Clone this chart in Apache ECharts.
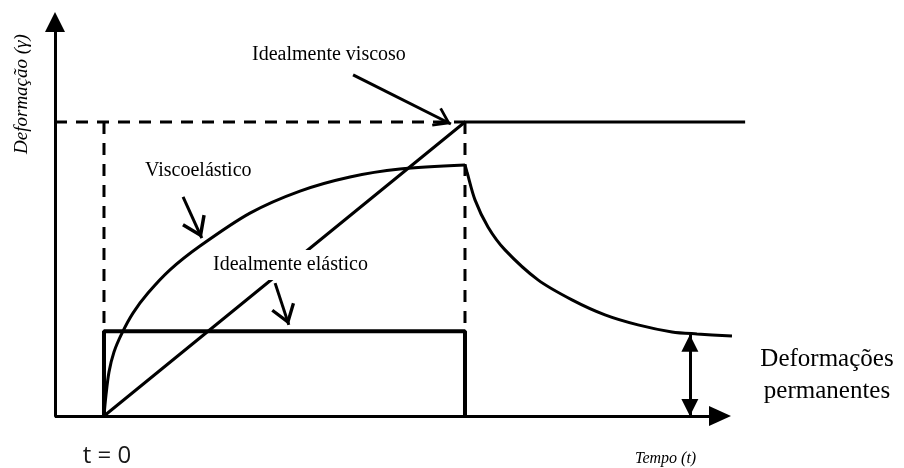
<!DOCTYPE html>
<html>
<head>
<meta charset="utf-8">
<title>Deformação x Tempo</title>
<script src="https://cdn.jsdelivr.net/npm/echarts@6/dist/echarts.min.js"></script>
<style>
  html, body { margin: 0; padding: 0; background: #fff; }
  #chart { width: 904px; height: 468px; }
</style>
</head>
<body>
<div id="chart"></div>
<script>
// axis ranges (time t, strain gamma); t = 1 is the unloading instant, gamma = 1 the viscous maximum
const tMin = -0.1357;
const tMax = 1.8172;
const tAxisEnd = 1.7064;
const gMax = 1.34;

// ideal viscous: ramp then constant
const viscousT = [0, 1, 1.776];
const viscousG = [0, 1, 1];

// ideal elastic: step up, hold, step down
const elasticT = [0, 0, 1, 1];
const elasticG = [0, 0.288, 0.288, 0];

// viscoelastic creep (loading)
const creepT = [0, 0.0055, 0.0139, 0.0277, 0.0499, 0.0803, 0.1219, 0.1828, 0.2659, 0.4044, 0.5429, 0.6814, 0.8199, 1.0];
const creepG = [0, 0.071, 0.150, 0.218, 0.282, 0.350, 0.418, 0.497, 0.578, 0.690, 0.765, 0.813, 0.840, 0.854];

// viscoelastic recovery (after unloading)
const recoveryT = [1.0, 1.0055, 1.0277, 1.0637, 1.1108, 1.2022, 1.2964, 1.3878, 1.4792, 1.5734, 1.6427, 1.7396];
const recoveryG = [0.854, 0.830, 0.735, 0.643, 0.565, 0.463, 0.395, 0.344, 0.310, 0.286, 0.279, 0.272];

// dashed guide lines
const guideLevelT = [tMin, 1];
const guideLevelG = [1, 1];
const guideStartT = [0, 0];
const guideStartG = [1, 0.288];
const guideEndT = [1, 1];
const guideEndG = [1, 0];

// permanent deformation marker
const permanentT = 1.623;
const permanentG = [0, 0.276];

// pointer arrows: [t, gamma] from -> to
const pointerFrom = [[0.690, 1.160], [0.219, 0.745], [0.474, 0.452]];
const pointerTo = [[0.961, 0.993], [0.271, 0.605], [0.512, 0.310]];
const pointerHead = [[21, 17], [26, 21], [25, 20]];

const labels = ['Idealmente viscoso', 'Viscoelástico', 'Idealmente elástico'];

function pairs(ts, gs) {
  return ts.map((t, i) => [t, gs[i]]);
}

const chevron = 'path://M11,0 L22,15.4 L19.6,17 L11,5 L2.4,17 L0,15.4 Z';
const serif = '"Liberation Serif", "Times New Roman", serif';

function lineSeries(name, data, width, dashed, smooth) {
  return {
    name: name,
    type: 'line',
    data: data,
    symbol: 'none',
    smooth: smooth || false,
    clip: false,
    silent: true,
    lineStyle: { color: '#000', width: width, type: dashed ? [12, 9] : 'solid' },
    z: 3
  };
}

const chart = echarts.init(document.getElementById('chart'));

const pointerLines = pointerFrom.map((from, i) => [
  { coord: from, symbol: 'none' },
  { coord: pointerTo[i], symbol: chevron, symbolSize: pointerHead[i], symbolOffset: [0, pointerHead[i][1] / 2] }
]);

// x axis drawn as a line with arrow so marks can run a bit past its tip
const xAxisLine = [
  { coord: [tMin, 0], symbol: 'none', lineStyle: { width: 3 } },
  { coord: [tAxisEnd, 0], symbol: 'triangle', symbolSize: [20, 22], symbolOffset: [0, 0] }
];

const permanentLine = [
  { coord: [permanentT, permanentG[0]], symbol: 'triangle', symbolSize: [17, 17], symbolOffset: [0, 8.5] },
  { coord: [permanentT, permanentG[1]], symbol: 'triangle', symbolSize: [17, 17], symbolOffset: [0, 8.5] }
];

const option = {
  animation: false,
  backgroundColor: '#fff',
  grid: { left: 55, right: 144, top: 22, bottom: 52 },
  xAxis: {
    type: 'value',
    min: tMin,
    max: tMax,
    splitLine: { show: false },
    axisTick: { show: false },
    axisLabel: { show: false },
    axisLine: { show: false }
  },
  yAxis: {
    type: 'value',
    min: 0,
    max: gMax,
    splitLine: { show: false },
    axisTick: { show: false },
    axisLabel: { show: false },
    axisLine: {
      show: true,
      onZero: false,
      symbol: ['none', 'triangle'],
      symbolSize: [20, 20],
      lineStyle: { color: '#000', width: 3 }
    }
  },
  series: [
    lineSeries('guideLevel', pairs(guideLevelT, guideLevelG), 3, true),
    lineSeries('guideStart', pairs(guideStartT, guideStartG), 3, true),
    lineSeries('guideEnd', pairs(guideEndT, guideEndG), 3, true),
    lineSeries('Idealmente viscoso', pairs(viscousT, viscousG), 3, false),
    Object.assign(lineSeries('Idealmente elástico', pairs(elasticT, elasticG), 4, false), {
      markLine: {
        silent: true,
        symbol: ['none', 'none'],
        label: { show: false },
        lineStyle: { color: '#000', width: 3, type: 'solid' },
        data: pointerLines.concat([permanentLine, xAxisLine])
      }
    }),
    lineSeries('Viscoelástico', pairs(creepT, creepG), 3, false, 0.3),
    lineSeries('Recuperação', pairs(recoveryT, recoveryG), 3, false, 0.3)
  ],
  graphic: [
    {
      type: 'text', x: 22, y: 94, rotation: Math.PI / 2, z: 100,
      style: { text: 'Deformação (γ)', font: 'italic 19px ' + serif, fill: '#000', align: 'center', verticalAlign: 'middle' }
    },
    {
      type: 'text', x: 252, y: 55, z: 100,
      style: { text: labels[0], font: '20px ' + serif, fill: '#000', align: 'left', verticalAlign: 'middle' }
    },
    {
      type: 'text', x: 145, y: 171, z: 100,
      style: { text: labels[1], font: '20px ' + serif, fill: '#000', align: 'left', verticalAlign: 'middle' }
    },
    {
      type: 'text', x: 209, y: 265, z: 100,
      style: {
        text: labels[2], font: '20px ' + serif, fill: '#000', align: 'left', verticalAlign: 'middle',
        backgroundColor: '#fff', padding: [10, 4, 0, 4]
      }
    },
    {
      type: 'text', x: 827, y: 359, z: 100,
      style: { text: 'Deformações', font: '25px ' + serif, fill: '#000', align: 'center', verticalAlign: 'middle' }
    },
    {
      type: 'text', x: 827, y: 391, z: 100,
      style: { text: 'permanentes', font: '25px ' + serif, fill: '#000', align: 'center', verticalAlign: 'middle' }
    },
    {
      type: 'text', x: 107, y: 456, z: 100,
      style: { text: 't = 0', font: '24px "Open Sans", sans-serif', fill: '#1a1a1a', align: 'center', verticalAlign: 'middle' }
    },
    {
      type: 'text', x: 635, y: 459, z: 100,
      style: { text: 'Tempo (t)', font: 'italic 16px ' + serif, fill: '#000', align: 'left', verticalAlign: 'middle' }
    }
  ]
};

chart.setOption(option);
</script>
</body>
</html>
